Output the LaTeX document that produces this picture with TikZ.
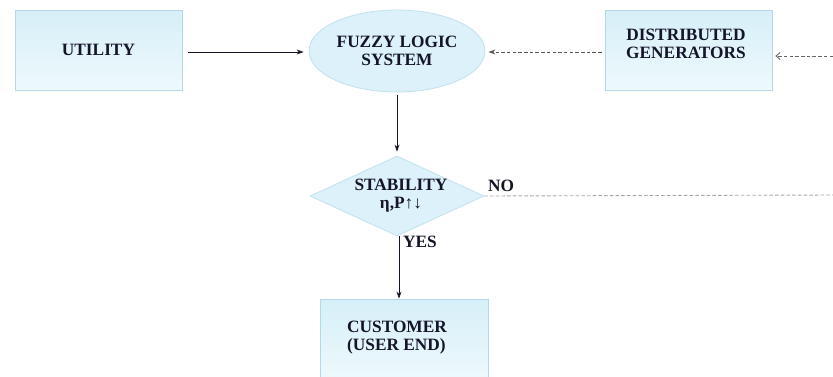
\documentclass[tikz,border=0pt]{standalone}
\usepackage{fontspec}
\setmainfont{Liberation Serif}
\usetikzlibrary{shapes.geometric,arrows.meta}
\definecolor{boxtop}{HTML}{D6EFF8}
\definecolor{boxbot}{HTML}{EEF9FC}
\definecolor{boxline}{HTML}{B3D9E8}
\definecolor{ink}{HTML}{15152A}
\tikzset{
  blockbox/.style={rectangle,draw=boxline,line width=0.8pt,top color=boxtop,bottom color=boxbot,inner sep=0pt,minimum width=167pt,minimum height=80pt},
  ovalbox/.style={ellipse,draw=boxline!80,line width=0.8pt,fill=boxtop!85,inner sep=0pt,minimum width=176pt,minimum height=82pt},
  decbox/.style={diamond,draw=boxline!80,line width=0.8pt,fill=boxtop!85,inner sep=0pt,minimum width=174pt,minimum height=80pt},
  lbl/.style={font=\bfseries\fontsize{17.3}{18}\selectfont,text=ink,align=center,inner sep=0pt},
  solidarrow/.style={draw=ink,line width=0.8pt,-{Stealth[length=7pt,width=5pt]}},
  dasharrow/.style={draw=gray!70!black,line width=0.9pt,dash pattern=on 3.5pt off 2.2pt,-{Stealth[length=7pt,width=5pt]}},
  openarrow/.style={draw=gray!80!black,line width=0.9pt,dash pattern=on 3.5pt off 2.2pt,-{Straight Barb[length=4pt,width=7pt]}},
  dashline/.style={draw=gray!70,line width=0.9pt,dash pattern=on 3.5pt off 2.2pt},
}
\begin{document}
\begin{tikzpicture}[x=1pt,y=-1pt]
\useasboundingbox (0,0) rectangle (833,376);
\node[blockbox,lbl] (util) at (98.5,50) {UTILITY};
\node[ovalbox,lbl] (fuzzy) at (397,51) {FUZZY LOGIC\\SYSTEM};
\node[blockbox] (dg) at (688.5,50) {};
\node[lbl] (dgtext) at (686,44) {DISTRIBUTED\\GENERATORS};
\node[decbox] (stab) at (397,196) {};
\node[lbl] (stabtext) at (401,196) {STABILITY\\η,P↑↓};
\node[rectangle,draw=boxline,line width=0.8pt,top color=boxtop,bottom color=boxbot,minimum width=168pt,minimum height=82pt,inner sep=0pt] (cust) at (404,340) {};
\node[lbl,align=left] (custtext) at (397,338) {CUSTOMER\\(USER END)};
\node[lbl,anchor=west] (no) at (488,186) {NO};
\node[lbl,anchor=west] (yes) at (403,242) {YES};
\coordinate (rightin) at (833,56);
\coordinate (rightno) at (833,195);
\draw[solidarrow,shorten <=6pt,shorten >=5pt] (util.east |- 0,52) -- (fuzzy.west |- 0,52);
\draw[dasharrow,shorten <=3pt,shorten >=3pt] (dg.west |- 0,52) -- (fuzzy.east |- 0,52);
\draw[openarrow,shorten >=3pt] (rightin) -- (dg.east |- rightin);
\draw[solidarrow,shorten <=3pt,shorten >=4pt] (fuzzy.south) -- (stab.north);
\draw[dashline] (stab.east) -- (rightno);
\draw[solidarrow] (stab.south -| 399,0) -- (cust.north -| 399,0);
\end{tikzpicture}
\end{document}
